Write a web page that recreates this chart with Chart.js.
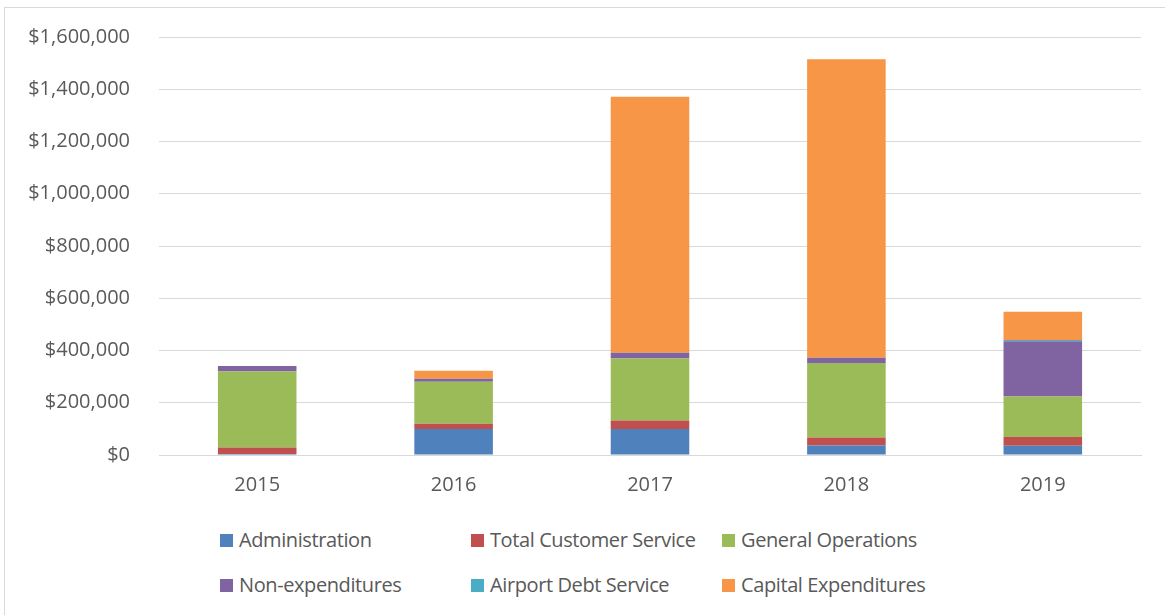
<!DOCTYPE html>
<html>
<head>
<meta charset="utf-8">
<script src="https://cdn.jsdelivr.net/npm/chart.js@4"></script>
<style>
  body { margin: 0; background: #fff; font-family: "Open Sans", sans-serif; }
  .frame { position: absolute; left: 4px; top: 7px; width: 1170px; height: 620px; border: 1px solid #d9d9d9; }
  .wrap { position: absolute; left: 0; top: -4px; width: 1165px; height: 514px; }
  .legend { position: absolute; left: 220px; top: 526px; display: grid; grid-template-columns: 251px 251px 260px; row-gap: 18px; }
  .legend div { font-size: 20px; color: #595959; height: 27px; line-height: 27px; white-space: nowrap; letter-spacing: -0.4px; }
  .legend span { display: inline-block; width: 13px; height: 13px; margin-right: 6px; vertical-align: 0px; }
</style>
</head>
<body>
<div class="frame"></div>
<div class="wrap"><canvas id="chart" width="1165" height="514"></canvas></div>
<div class="legend" id="legend"></div>
<script>
const years = ["2015", "2016", "2017", "2018", "2019"];
const administration = [3800, 100000, 100000, 36600, 35500];
const customerService = [25000, 20000, 31700, 30500, 33000];
const generalOperations = [291000, 160500, 238000, 285000, 155000];
const nonExpenditures = [21000, 11500, 21800, 20000, 212000];
const airportDebt = [0, 0, 0, 0, 5000];
const capitalExpenditures = [0, 30600, 980000, 1143000, 108000];

const seriesNames = ["Administration", "Total Customer Service", "General Operations",
    "Non-expenditures", "Airport Debt Service", "Capital Expenditures"];
const seriesData = [administration, customerService, generalOperations,
    nonExpenditures, airportDebt, capitalExpenditures];
const colors = ["#4F81BD", "#C0504D", "#9BBB59", "#8064A2", "#4BACC6", "#F79646"];

const textColor = "#595959";
const font = { family: "Open Sans", size: 20 };

const datasets = seriesNames.map((name, i) => ({
    label: name,
    data: seriesData[i],
    backgroundColor: colors[i],
    borderWidth: 0,
    categoryPercentage: 1,
    barPercentage: 0.4,
}));

new Chart(document.getElementById("chart"), {
    type: "bar",
    data: { labels: years, datasets: datasets },
    options: {
        responsive: false,
        animation: false,
        layout: { padding: { top: 20, right: 24, left: 0, bottom: 0 } },
        plugins: { legend: { display: false }, tooltip: { enabled: false } },
        scales: {
            x: {
                stacked: true,
                grid: { display: false, drawTicks: false },
                border: { display: true, color: "#d9d9d9", width: 1 },
                ticks: { color: textColor, font: font, padding: 18 },
                afterFit: (scale) => { scale.height = 55; },
            },
            y: {
                stacked: true,
                min: 0,
                max: 1600000,
                grid: { color: "#d9d9d9", lineWidth: 1, drawTicks: false },
                border: { display: false },
                ticks: {
                    stepSize: 200000,
                    color: textColor,
                    font: font,
                    padding: 29,
                    callback: (v) => "$" + v.toLocaleString("en-US"),
                },
                afterFit: (scale) => { scale.width = 159; },
            },
        },
    },
});

// legend in two rows like the original
const legend = document.getElementById("legend");
seriesNames.forEach((name, i) => {
    let d = document.createElement("div");
    d.innerHTML = `<span style="background:${colors[i]}"></span>${name}`;
    legend.appendChild(d);
});
</script>
</body>
</html>
